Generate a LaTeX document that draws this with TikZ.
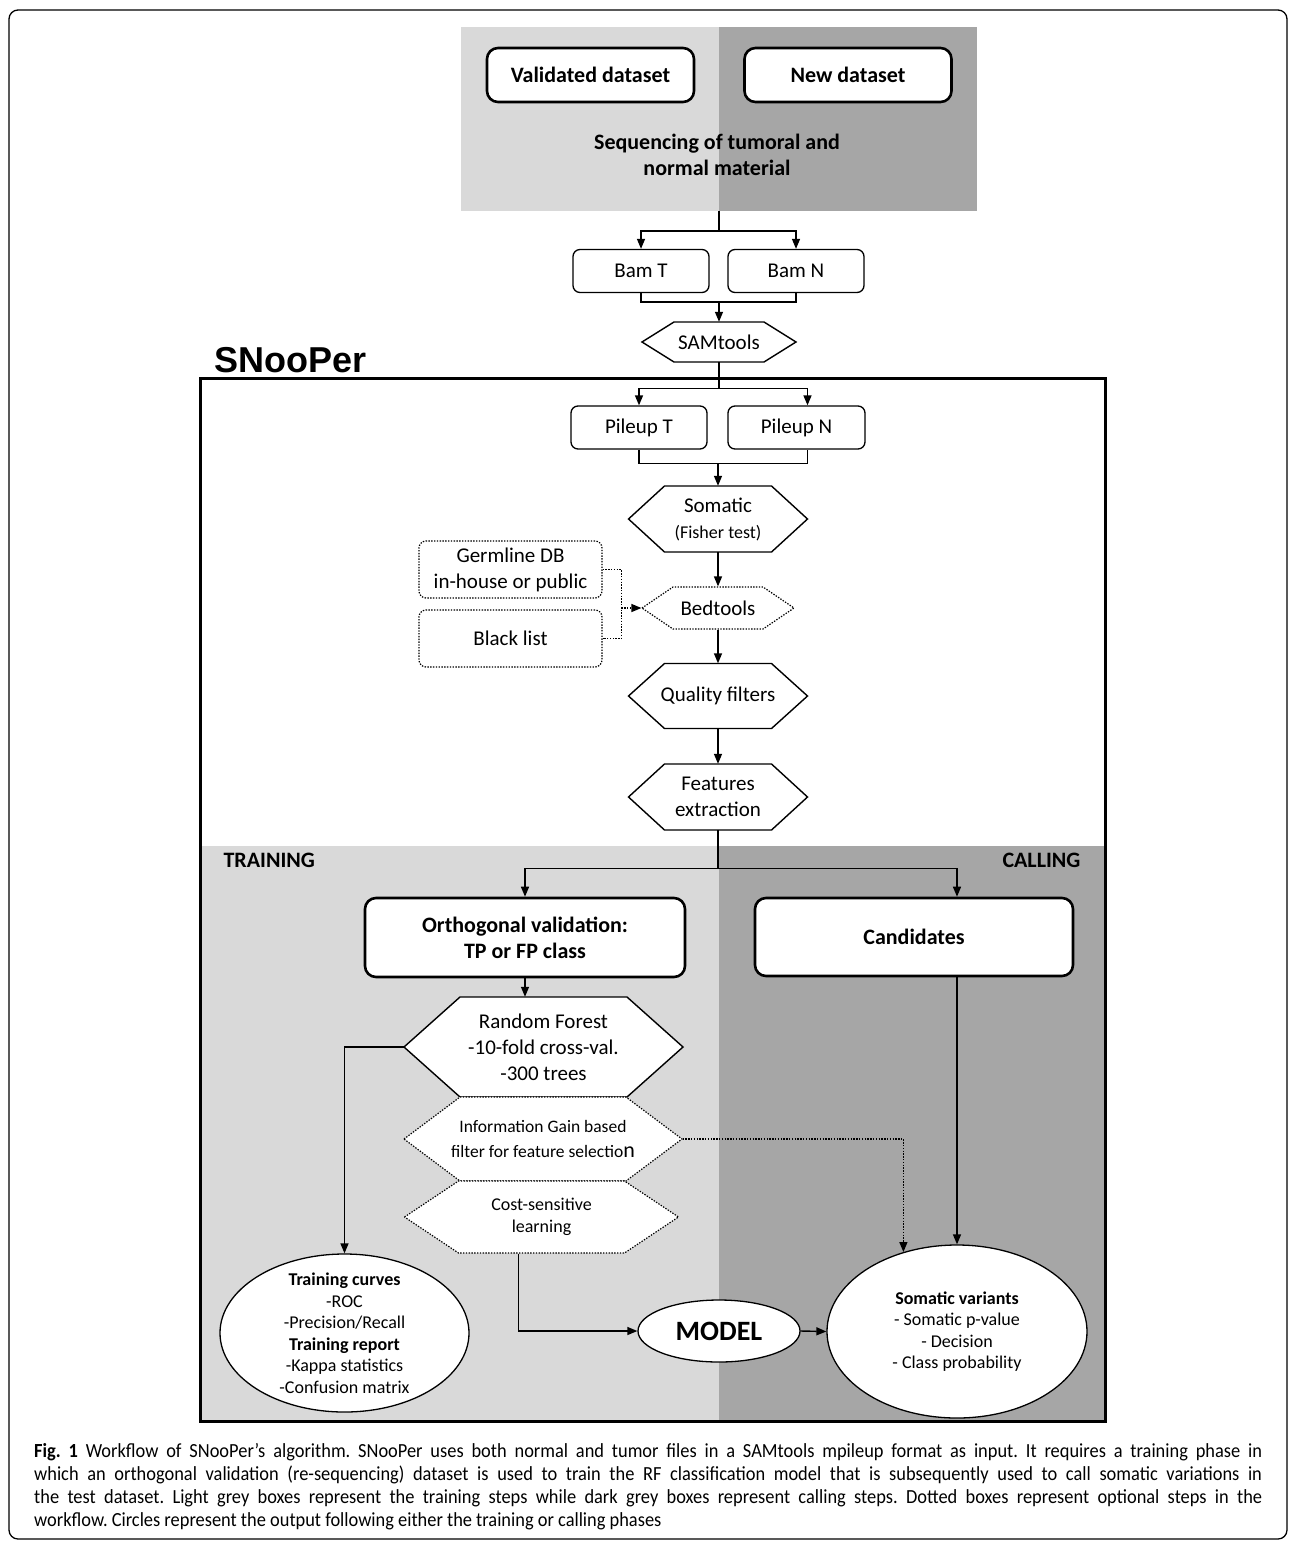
\documentclass[tikz,border=0pt]{standalone}
\usepackage{fontspec}
\setmainfont{Carlito}
\newfontfamily\snoofont{Liberation Sans}
\newfontfamily\capfont[FakeStretch=0.92]{Carlito}
\usetikzlibrary{arrows.meta,calc,shapes.geometric}

\definecolor{trainG}{HTML}{D9D9D9}
\definecolor{callG}{HTML}{A6A6A6}

% hexagon step: [opts]{name}{x}{y}{half width}{inset}{half height}{text}
\newcommand{\hexnode}[8][]{%
  \draw[hexline,#1] ({#3-#5},#4) -- ({#3-#5+#6},{#4-#7}) -- ({#3+#5-#6},{#4-#7})
    -- ({#3+#5},#4) -- ({#3+#5-#6},{#4+#7}) -- ({#3-#5+#6},{#4+#7}) -- cycle;
  \node[txt,align=center,inner sep=0pt,minimum width={2*#5},minimum height={2*#7},#1]
    (#2) at (#3,#4) {#8};}

\begin{document}
\begin{tikzpicture}[x=1pt,y=-1pt,>={Triangle[length=10pt,width=8pt]},
  txt/.style={font=\fontsize{21}{26}\selectfont},
  smalltxt/.style={font=\fontsize{18}{21.5}\selectfont},
  conn/.style={line width=1.4pt},
  dotline/.style={line width=1.2pt,dash pattern=on 1.4pt off 1.4pt},
  hexline/.style={draw,fill=white,line width=1.4pt},
  procbox/.style={draw,fill=white,rounded corners=7pt,line width=1.3pt,txt,
    inner sep=0pt,align=center},
  bigbox/.style={procbox,rounded corners=11pt,line width=2.6pt,
    font=\fontsize{22}{26}\selectfont\bfseries},
  optbox/.style={procbox,dotline},
  outnode/.style={draw,fill=white,ellipse,line width=1.3pt,inner sep=0pt},
  phase/.style={font=\fontsize{22}{24}\selectfont\bfseries}]
  \useasboundingbox (0,0) rectangle (1295,1548);
  \draw[line width=1.3pt,rounded corners=9pt] (9,10) rectangle (1287,1539);
  % ---------------- input data ----------------
  \fill[trainG] (461,27) rectangle (719,211);
  \fill[callG] (719,27) rectangle (977,211);
  \node[bigbox,minimum width=207,minimum height=54] (valid) at (590.5,75) {Validated dataset};
  \node[bigbox,minimum width=207,minimum height=54] (newd) at (848,75) {New dataset};
  \node[font=\fontsize{22}{26}\selectfont\bfseries,align=center] (seq) at (717,155)
    {Sequencing of tumoral and\\normal material};
  \coordinate (seqbot) at (719,211);
  \node[procbox,minimum width=136,minimum height=43] (bamt) at (641,271) {Bam T};
  \node[procbox,minimum width=136,minimum height=43] (bamn) at (796,271) {Bam N};
  \hexnode{sam}{719}{342}{77}{32}{20}{SAMtools}
  % ---------------- SNooPer ----------------
  \fill[trainG] (201,846) rectangle (719,1420);
  \fill[callG] (719,846) rectangle (1104,1420);
  \draw[line width=3pt] (200,378) rectangle (1105,1421);
  \node[font={\snoofont\bfseries\fontsize{36}{40}\selectfont},anchor=base west,inner sep=0pt]
    (snoo) at (214,372) {SNooPer};
  \node[procbox,minimum width=136,minimum height=43] (pilet) at (639,427.5) {Pileup T};
  \node[procbox,minimum width=137,minimum height=43] (pilen) at (796.5,427.5) {Pileup N};
  \hexnode{soma}{718}{519}{89.5}{36}{33}{Somatic\\{\fontsize{18}{20}\selectfont (Fisher test)}}
  \hexnode[dotline]{bed}{718}{608}{76}{31}{21}{Bedtools}
  \node[optbox,minimum width=183,minimum height=57] (germ) at (510.5,569.5)
    {Germline DB\\in-house or public};
  \node[optbox,minimum width=183,minimum height=57] (black) at (510.5,638.5) {Black list};
  \hexnode{qual}{718}{696}{89.5}{36}{32.5}{Quality filters}
  \hexnode{feat}{718}{797}{89.5}{36}{33}{Features\\extraction}
  % ---------------- training / calling ----------------
  \node[phase,anchor=west] (trlab) at (220,860) {TRAINING};
  \node[phase,anchor=east] (calab) at (1084,860) {CALLING};
  \node[bigbox,minimum width=320,minimum height=79] (ortho) at (525,937.5)
    {Orthogonal validation:\\TP or FP class};
  \node[bigbox,minimum width=318,minimum height=78] (cand) at (914,937) {Candidates};
  \hexnode{rf}{543.5}{1047}{139.5}{56}{50}{Random Forest\\-10-fold cross-val.\\-300 trees}
  \hexnode[dotline,font=\fontsize{17.5}{25}\selectfont]{igain}{543}{1139}{139}{56}{42}
    {Information Gain based\\filter for feature selectio{\fontsize{22}{25}\selectfont n}}
  \hexnode[dotline,smalltxt]{cost}{541.5}{1217}{137}{54}{36}{Cost-sensitive\\learning}
  \node[outnode,minimum width=249,minimum height=158,
    label={[smalltxt,align=center]center:{\textbf{Training curves}\\-ROC\\-Precision/Recall\\
    \textbf{Training report}\\-Kappa statistics\\-Confusion matrix}}] (train) at (344.5,1333) {};
  \node[outnode,minimum width=162,minimum height=62,font=\fontsize{28}{32}\selectfont\bfseries]
    (model) at (719,1331) {MODEL};
  \node[outnode,minimum width=260,minimum height=173,
    label={[smalltxt,align=center]center:{\textbf{Somatic variants}\\- Somatic p-value\\
    - Decision\\- Class probability}}] (somv) at (957,1331.5) {};
  % ---------------- connectors ----------------
  \draw[conn,->] (seqbot) -- ++(0,20) coordinate (f1) -| (bamt.north);
  \draw[conn,->] (f1) -| (bamn.north);
  \draw[conn] (bamt.south) -- ++(0,9) coordinate (j1) -| (bamn.south);
  \draw[conn,->] (j1 -| sam.north) -- (sam.north);
  \draw[conn] (sam.south) -- ++(0,26) coordinate (f2);
  \draw[conn,->] (f2) -| (pilet.north);
  \draw[conn,->] (f2) -| ([xshift=11]pilen.north);
  \draw[conn] (pilet.south) -- ++(0,14) coordinate (j2) -| ([xshift=11]pilen.south);
  \draw[conn,->] (j2 -| soma.north) -- (soma.north);
  \draw[conn,->] (soma.south) -- (bed.north);
  \coordinate (jb) at ($(bed.west)+(-20,0)$);
  \draw[dotline] (germ.east) -| (jb) |- (black.east);
  \draw[dotline,->] (jb) -- (bed.west);
  \draw[conn,->] (bed.south) -- (qual.north);
  \draw[conn,->] (qual.south) -- (feat.north);
  \draw[conn] (feat.south) -- ++(0,38) coordinate (f3);
  \draw[conn,->] (f3) -| (ortho.north);
  \draw[conn,->] (f3) -| (cand.north -| somv.north);
  \draw[conn,->] (ortho.south) -- (ortho.south |- rf.north);
  \draw[conn,->] (rf.west) -| (train.north);
  \draw[conn,->] (cand.south -| somv.north) -- (somv.north);
  \draw[dotline,->] (igain.east) -| (somv.124);
  \draw[conn,->] ([xshift=-23]cost.south) |- (model.west);
  \draw[conn,->] (model.east) -- (somv.west);
  % ---------------- caption ----------------
  \node[anchor=north west,text width=1228pt,align=justify,inner sep=0pt,
    font=\capfont\fontsize{20}{23}\selectfont\frenchspacing] (cap) at (34,1443)
    {\textbf{Fig.~1} Workflow of SNooPer’s algorithm. SNooPer uses both normal and tumor files in a SAMtools mpileup format as input. It requires a training phase in\linebreak
    which an orthogonal validation (re-sequencing) dataset is used to train the RF classification model that is subsequently used to call somatic variations in\linebreak
    the test dataset. Light grey boxes represent the training steps while dark grey boxes represent calling steps. Dotted boxes represent optional steps in the\linebreak
    workflow. Circles represent the output following either the training or calling phases};
\end{tikzpicture}
\end{document}
